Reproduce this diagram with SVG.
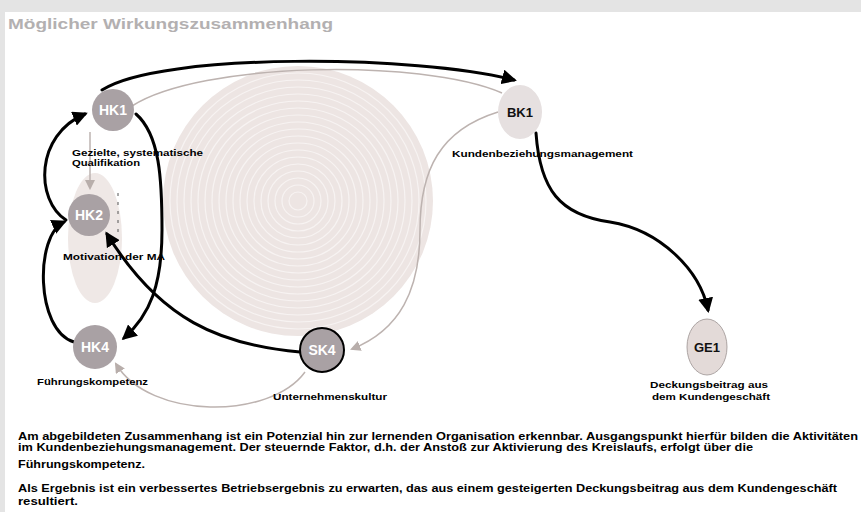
<svg xmlns="http://www.w3.org/2000/svg" width="861" height="512" viewBox="0 0 861 512">
<style>
.node{fill:#a9a1a4}
.nlab{font-family:"Liberation Sans",Arial,sans-serif;font-weight:bold;font-size:14px;fill:#fff;text-anchor:middle}
.nlabd{font-family:"Liberation Sans",Arial,sans-serif;font-weight:bold;font-size:13px;fill:#111;text-anchor:middle}
.lab{font-family:"Liberation Sans",Arial,sans-serif;font-weight:bold;font-size:9px;fill:#000}
.body{font-family:"Liberation Sans",Arial,sans-serif;font-weight:bold;font-size:10px;fill:#000}
.blk{fill:none;stroke:#000;stroke-width:3;stroke-linecap:round}
.gry{fill:none;stroke:#bdb3b0;stroke-width:1.5}
.ring{fill:none;stroke:#f7f3f2;stroke-width:1.2}
</style>
<defs>
<marker id="ab" viewBox="0 0 10 10" refX="8" refY="5" markerWidth="5" markerHeight="5" orient="auto" markerUnits="strokeWidth">
<path d="M0,0 L10,5 L0,10 z" fill="#000"/>
</marker>
<marker id="ag" viewBox="0 0 10 10" refX="8" refY="5" markerWidth="7" markerHeight="7" orient="auto" markerUnits="strokeWidth">
<path d="M0,0 L10,5 L0,10 z" fill="#b8aeab"/>
</marker>
</defs>
<rect x="0" y="0" width="861" height="512" fill="#e4e4e4"/>
<rect x="5" y="12" width="856" height="500" fill="#ffffff"/>
<text x="8" y="29" font-family="Liberation Sans,Arial,sans-serif" font-weight="bold" font-size="15" fill="#b3b0b1" textLength="325" lengthAdjust="spacingAndGlyphs">Möglicher Wirkungszusammenhang</text>

<g id="background-areas">
<circle cx="298" cy="201" r="135" fill="#ede5e3"/>
<g class="ring">
<circle cx="298" cy="201" r="128"/><circle cx="298" cy="201" r="121"/><circle cx="298" cy="201" r="114"/><circle cx="298" cy="201" r="107"/><circle cx="298" cy="201" r="100"/><circle cx="298" cy="201" r="93"/><circle cx="298" cy="201" r="86"/><circle cx="298" cy="201" r="79"/><circle cx="298" cy="201" r="72"/><circle cx="298" cy="201" r="65"/><circle cx="298" cy="201" r="58"/><circle cx="298" cy="201" r="51"/><circle cx="298" cy="201" r="44"/><circle cx="298" cy="201" r="37"/><circle cx="298" cy="201" r="30"/><circle cx="298" cy="201" r="23"/><circle cx="298" cy="201" r="16"/><circle cx="298" cy="201" r="9"/>
</g>
<ellipse cx="95" cy="238" rx="27" ry="65" fill="#efe8e6"/>
<line x1="118" y1="193" x2="118" y2="238" stroke="#555" stroke-width="1" stroke-dasharray="3,6"/>
</g>

<g id="connectors">
<path class="gry" d="M132,106 C200,62 420,58 502,93"/>
<path class="blk" d="M102,90 C160,52 420,55 514,80" marker-end="url(#ab)"/>
<path class="gry" d="M498,112 C440,130 420,170 420,230 C420,290 400,330 352,349" marker-end="url(#ag)"/>
<path class="blk" d="M536,133 C540,190 560,215 610,222 C660,230 700,270 708,310" marker-end="url(#ab)"/>
<path class="blk" d="M136,114 C160,135 162,180 162,230 C162,285 150,315 124,338" marker-end="url(#ab)"/>
<path class="blk" d="M66,220 C35,200 35,135 85,114" marker-end="url(#ab)"/>
<path class="blk" d="M74,342 C35,330 35,235 64,222" marker-end="url(#ab)"/>
<path class="blk" d="M300,352 C220,345 160,320 107,234" marker-end="url(#ab)"/>
<path class="gry" d="M90,132 L90,188" marker-end="url(#ag)"/>
<path class="gry" d="M305,372 C270,420 150,420 116,364" marker-end="url(#ag)"/>
</g>

<g id="HK1">
<circle class="node" cx="113" cy="110" r="21"/>
<text class="nlab" x="113" y="115">HK1</text>
<text class="lab" x="72" y="156" textLength="131" lengthAdjust="spacingAndGlyphs">Gezielte, systematische</text>
<text class="lab" x="72" y="166" textLength="68" lengthAdjust="spacingAndGlyphs">Qualifikation</text>
</g>
<g id="HK2">
<circle class="node" cx="89" cy="215" r="21"/>
<text class="nlab" x="89" y="220">HK2</text>
<text class="lab" x="63" y="260" textLength="102" lengthAdjust="spacingAndGlyphs">Motivation der MA</text>
</g>
<g id="HK4">
<circle class="node" cx="95" cy="347" r="22"/>
<text class="nlab" x="95" y="352">HK4</text>
<text class="lab" x="37" y="385" textLength="111" lengthAdjust="spacingAndGlyphs">Führungskompetenz</text>
</g>
<g id="SK4">
<circle class="node" cx="322" cy="350" r="22" stroke="#000" stroke-width="2"/>
<text class="nlab" x="322" y="355">SK4</text>
<text class="lab" x="273" y="400" textLength="114" lengthAdjust="spacingAndGlyphs">Unternehmenskultur</text>
</g>
<g id="BK1">
<ellipse cx="520" cy="112" rx="22" ry="27" fill="#e6e0e0"/>
<text class="nlabd" x="520" y="117">BK1</text>
<text class="lab" x="452" y="157" textLength="181" lengthAdjust="spacingAndGlyphs">Kundenbeziehungsmanagement</text>
</g>
<g id="GE1">
<ellipse cx="707" cy="347" rx="20" ry="28" fill="#e3dad8" stroke="#9a9291" stroke-width="0.8"/>
<text class="nlabd" x="707" y="352" font-size="12">GE1</text>
<text class="lab" x="650" y="388" textLength="118" lengthAdjust="spacingAndGlyphs">Deckungsbeitrag aus</text>
<text class="lab" x="652" y="400" textLength="118" lengthAdjust="spacingAndGlyphs">dem Kundengeschäft</text>
</g>

<g id="description">
<text class="body" x="18" y="440" textLength="840" lengthAdjust="spacingAndGlyphs">Am abgebildeten Zusammenhang ist ein Potenzial hin zur lernenden Organisation erkennbar.  Ausgangspunkt hierfür bilden die Aktivitäten</text>
<text class="body" x="18" y="451" textLength="735" lengthAdjust="spacingAndGlyphs">im Kundenbeziehungsmanagement. Der steuernde Faktor, d.h. der Anstoß zur Aktivierung des Kreislaufs, erfolgt über die</text>
<text class="body" x="18" y="468" textLength="127" lengthAdjust="spacingAndGlyphs">Führungskompetenz.</text>
<text class="body" x="18" y="492" textLength="819" lengthAdjust="spacingAndGlyphs">Als Ergebnis ist ein verbessertes Betriebsergebnis zu erwarten, das aus einem gesteigerten Deckungsbeitrag aus dem Kundengeschäft</text>
<text class="body" x="18" y="505" textLength="60" lengthAdjust="spacingAndGlyphs">resultiert.</text>
</g>
</svg>
